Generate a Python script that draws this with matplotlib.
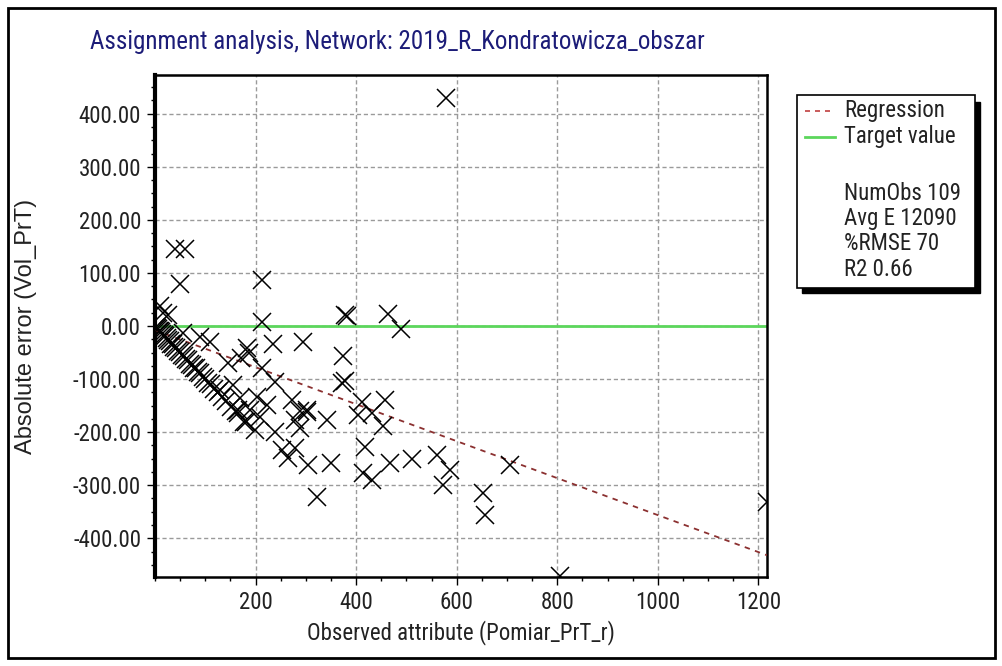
import matplotlib
matplotlib.use("Agg")
import matplotlib.pyplot as plt
from matplotlib import font_manager
from matplotlib.patches import Rectangle
from matplotlib.lines import Line2D
from matplotlib.ticker import MultipleLocator, FixedLocator

# the screenshot text is tall and narrow: use a condensed face when one exists
installed = {f.name for f in font_manager.fontManager.ttflist}
if "Liberation Sans Narrow" in installed:
    FACE, FS = "Liberation Sans Narrow", 17
elif "Roboto Condensed" in installed:
    FACE, FS = "Roboto Condensed", 16.5
else:
    FACE, FS = "Liberation Sans", 14.5
plt.rcParams['font.family'] = [FACE, 'Liberation Sans', 'DejaVu Sans']

# observed attribute vs absolute error
obs = [579, 40, 60, 50, 212, 212, 378, 382, 464, 490,
       10, 16, 26, 109, 183, 234, 294, 374, 372, 378,
       411, 457, 404, 431, 454, 343, 302, 418, 414, 431,
       467, 512, 560, 587, 573, 653, 656, 706, 805, 1217,
       323, 305, 349, 146, 172, 186, 212, 239, 156, 129,
       169, 202, 222, 162, 166, 189, 176, 209, 199, 239,
       272, 288, 302, 278, 288, 252, 278, 265, 56, 90,
       2, 4, 6, 8, 10, 12, 14, 17, 20, 23,
       26, 29, 32, 35, 38, 42, 46, 50, 54, 58,
       62, 66, 70, 74, 78, 82, 86, 90, 95, 100,
       106, 112, 118, 125, 133, 142, 152, 165, 180]
err = [430, 145, 145, 80, 87, 8, 21, 18, 22, -5,
       37, 25, 20, -30, -42, -34, -30, -56, -108, -104,
       -143, -139, -167, -164, -189, -177, -158, -228, -277, -290,
       -258, -250, -243, -271, -299, -315, -356, -262, -472, -331,
       -322, -262, -258, -70, -61, -51, -79, -105, -111, -120,
       -136, -133, -149, -161, -158, -158, -180, -171, -196, -199,
       -139, -161, -163, -177, -193, -233, -230, -249, -13, -20,
       -1, -4, -5, -9, -10, -12, -15, -17, -19, -23,
       -27, -28, -33, -34, -39, -41, -47, -49, -55, -57,
       -63, -65, -71, -73, -79, -80, -87, -89, -96, -99,
       -107, -110, -119, -124, -134, -141, -153, -164, -181]

reg_x = [0, 1217]
reg_y = [-8, -432]
target = 0.0

stats = ["NumObs 109", "Avg E 12090", "%RMSE 70", "R2 0.66"]
x_ticks = [200, 400, 600, 800, 1000, 1200]
y_ticks = [-400, -300, -200, -100, 0, 100, 200, 300, 400]

W, H = 1003, 666
fig = plt.figure(figsize=(W / 100, H / 100), dpi=100)
fig.patch.set_facecolor("white")


def fx(px):
    return px / W


def fy(py):
    return 1 - py / H


# outer frame of the window
fig.patches.append(Rectangle((fx(8), fy(658)), fx(995) - fx(8), fy(8) - fy(658),
                             transform=fig.transFigure, fill=False,
                             edgecolor="black", linewidth=2))

ax = fig.add_axes([fx(155), fy(577), fx(767) - fx(155), fy(75) - fy(577)])
ax.set_xlim(0, 1217)
ax.set_ylim(-473, 473)

ax.grid(True, color="#9a9a9a", linestyle=(0, (3, 2)), linewidth=1)
ax.set_axisbelow(True)

ax.axhline(target, color="#5cd65c", linewidth=2, zorder=2)
ax.plot(reg_x, reg_y, color="#8b3030", linestyle=(0, (3, 3)), linewidth=1.3, zorder=3)
ax.plot(obs, err, linestyle="none", marker="x", markersize=13,
        markeredgewidth=1.1, color="black", zorder=4)

ax.xaxis.set_major_locator(FixedLocator(x_ticks))
ax.xaxis.set_minor_locator(MultipleLocator(50))
ax.yaxis.set_major_locator(FixedLocator(y_ticks))
ax.yaxis.set_minor_locator(MultipleLocator(25))
ax.set_yticklabels(["%.2f" % v for v in y_ticks])
ax.tick_params(which="major", direction="out", length=6, width=1, labelsize=FS, pad=4,
               labelcolor="#222222")
ax.tick_params(which="minor", direction="out", length=3, width=1)

for side in ["top", "right", "bottom"]:
    ax.spines[side].set_linewidth(1.8)
ax.spines["left"].set_linewidth(3)

ax.set_xlabel("Observed attribute (Pomiar_PrT_r)", fontsize=FS, color="#222222")
ax.xaxis.set_label_coords(0.5, -0.085)
# rotated label keeps its full length in the squeezed screenshot
ax.set_ylabel("Absolute error (Vol_PrT)", fontsize=17, color="#222222",
              family=['Liberation Sans', 'DejaVu Sans'])
ax.yaxis.set_label_coords(-0.193, 0.5)

fig.text(fx(90), fy(42), "Assignment analysis, Network: 2019_R_Kondratowicza_obszar",
         fontsize=FS + 1.5, color="#1c1c78", ha="left", va="center")

# legend box with shadow
fig.patches.append(Rectangle((fx(802), fy(293)), fx(980) - fx(802), fy(102) - fy(293),
                             transform=fig.transFigure, facecolor="black",
                             edgecolor="black", zorder=5))
fig.patches.append(Rectangle((fx(797), fy(288)), fx(975) - fx(797), fy(95) - fy(288),
                             transform=fig.transFigure, facecolor="white",
                             edgecolor="black", linewidth=1.2, zorder=6))
fig.lines.append(Line2D([fx(805), fx(832)], [fy(111), fy(111)], transform=fig.transFigure,
                        color="#c04040", linestyle=(0, (3, 3)), linewidth=1.2, zorder=7))
fig.lines.append(Line2D([fx(805), fx(835)], [fy(137), fy(137)], transform=fig.transFigure,
                        color="#5cd65c", linewidth=2, zorder=7))
fig.text(fx(844), fy(111), "Regression", fontsize=FS, va="center", color="#222222", zorder=8)
fig.text(fx(844), fy(137), "Target value", fontsize=FS, va="center", color="#222222", zorder=8)
for i, s in enumerate(stats):
    fig.text(fx(844), fy(193 + 25.5 * i), s, fontsize=FS, va="center",
             color="#222222", zorder=8)

fig.savefig("out.png", dpi=100)
